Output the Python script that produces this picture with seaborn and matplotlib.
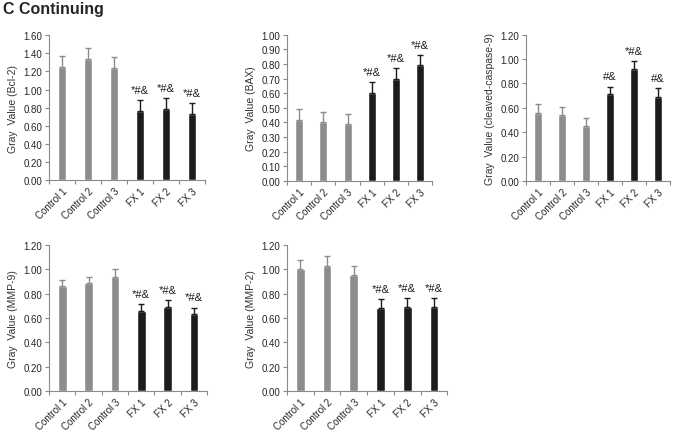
import matplotlib
matplotlib.use("Agg")
import matplotlib.pyplot as plt
import seaborn as sns
import numpy as np
import pandas as pd
from matplotlib.ticker import FormatStrFormatter, MultipleLocator

sns.set_style("white")
plt.rcParams['font.family'] = ['Liberation Sans', 'DejaVu Sans']

# data
groups = ["Control 1", "Control 2", "Control 3", "FX 1", "FX 2", "FX 3"]

bcl2_mean = [1.25, 1.34, 1.24, 0.76, 0.79, 0.73]
bcl2_err = [0.12, 0.12, 0.12, 0.12, 0.12, 0.12]
bax_mean = [0.42, 0.40, 0.39, 0.60, 0.70, 0.79]
bax_err = [0.075, 0.07, 0.07, 0.075, 0.075, 0.07]
casp9_mean = [0.56, 0.54, 0.45, 0.71, 0.92, 0.69]
casp9_err = [0.075, 0.07, 0.065, 0.065, 0.065, 0.07]
mmp9_mean = [0.86, 0.89, 0.94, 0.66, 0.69, 0.63]
mmp9_err = [0.055, 0.05, 0.06, 0.055, 0.055, 0.055]
mmp2_mean = [1.00, 1.03, 0.95, 0.68, 0.69, 0.69]
mmp2_err = [0.075, 0.075, 0.075, 0.075, 0.07, 0.07]

marks_std = ["", "", "", "*#&", "*#&", "*#&"]
marks_casp9 = ["", "", "", "#&", "*#&", "#&"]

bar_colors = ["#8c8c8c"] * 3 + ["#1c1c1c"] * 3
spine_col = "#8a8a8a"

panels = [
    # axes rect (figure fraction), means, errors, ylabel, ymax, tick step, marks
    ([0.0715, 0.580, 0.228, 0.336], bcl2_mean, bcl2_err, "Gray  Value (Bcl-2)", 1.6, 0.2, marks_std),
    ([0.419, 0.578, 0.212, 0.339], bax_mean, bax_err, "Gray  Value (BAX)", 1.0, 0.1, marks_std),
    ([0.768, 0.578, 0.210, 0.339], casp9_mean, casp9_err, "Gray  Value (cleaved-caspase-9)", 1.2, 0.2, marks_casp9),
    ([0.0715, 0.0905, 0.231, 0.339], mmp9_mean, mmp9_err, "Gray  Value (MMP-9)", 1.2, 0.2, marks_std),
    ([0.419, 0.0905, 0.234, 0.339], mmp2_mean, mmp2_err, "Gray  Value (MMP-2)", 1.2, 0.2, marks_std),
]

fig = plt.figure(figsize=(6.85, 4.31), dpi=100)

for rect, means, errs, ylabel, ymax, step, marks in panels:
    ax = fig.add_axes(rect)
    df = pd.DataFrame({"group": groups, "value": means})
    sns.barplot(data=df, x="group", y="value", hue="group", palette=bar_colors,
                width=0.33, legend=False, ax=ax, saturation=1)
    x = np.arange(len(groups))
    for i in range(len(groups)):
        ax.errorbar(x[i], means[i], yerr=[[0], [errs[i]]], fmt="none",
                    ecolor=bar_colors[i], elinewidth=1.0, capsize=2.5, capthick=1.0)
        if marks[i]:
            ax.text(x[i], means[i] + errs[i] + ymax * 0.035, marks[i],
                    ha="center", va="bottom", fontsize=8, color="#1c1c1c")

    ax.set_xlim(-0.5, 5.5)
    ax.set_ylim(0, ymax)
    ax.yaxis.set_major_locator(MultipleLocator(step))
    ax.yaxis.set_major_formatter(FormatStrFormatter("%.2f"))
    ax.set_xticks(x)
    ax.set_xticklabels(groups, rotation=45, ha="right", rotation_mode="anchor",
                       fontsize=7)
    ax.set_xticks(np.arange(-0.5, 6, 1), minor=True)
    ax.tick_params(axis="x", which="major", length=0, pad=4)
    ax.tick_params(axis="x", which="minor", length=3, color=spine_col, width=0.8,
                   direction="out", bottom=True)
    ax.tick_params(axis="y", length=3, color=spine_col, width=0.8, direction="out",
                   left=True, labelsize=7, pad=2)
    ax.set_xlabel("")
    ax.set_ylabel(ylabel, fontsize=7.5, color="#333333", labelpad=4)
    for side in ["top", "right"]:
        ax.spines[side].set_visible(False)
    for side in ["left", "bottom"]:
        ax.spines[side].set_color(spine_col)
        ax.spines[side].set_linewidth(0.8)

fig.text(0.004, 0.995, "C Continuing", fontsize=11.5, fontweight="bold",
         ha="left", va="top")

fig.savefig("out.png", dpi=100)
